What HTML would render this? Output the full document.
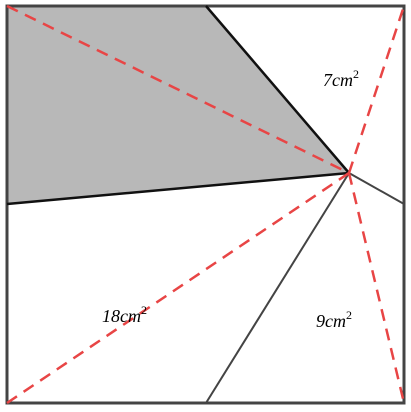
<!DOCTYPE html>
<html><head><meta charset="utf-8"><style>
html,body{margin:0;padding:0;background:#fff;width:411px;height:412px;overflow:hidden}
text{font-family:"Liberation Serif",serif;font-style:italic;font-size:18px}
</style></head><body>
<svg width="411" height="412" viewBox="0 0 411 412">
<polygon points="7,6 206,6 349,173 7,204" fill="#b8b8b8"/>
<rect x="7" y="6" width="397" height="397" fill="none" stroke="#444" stroke-width="3"/>
<line x1="206" y1="6" x2="349" y2="173" stroke="#111" stroke-width="2.5"/>
<line x1="7" y1="204" x2="349" y2="173" stroke="#111" stroke-width="2.5"/>
<line x1="349" y1="173" x2="404" y2="204" stroke="#444" stroke-width="2"/>
<line x1="349" y1="173" x2="206" y2="403" stroke="#444" stroke-width="2"/>
<g stroke="#e84545" stroke-width="2.5" stroke-dasharray="12,8" fill="none">
<line x1="7" y1="6" x2="349" y2="173"/>
<line x1="349" y1="173" x2="404" y2="403"/>
<line x1="7" y1="403" x2="349" y2="173"/>
<line x1="349" y1="173" x2="404" y2="6"/>
</g>
<text x="323" y="86">7cm<tspan font-size="12" dy="-8" font-style="normal">2</tspan></text>
<text x="102" y="322">18cm<tspan font-size="12" dy="-8" font-style="normal">2</tspan></text>
<text x="316" y="327">9cm<tspan font-size="12" dy="-8" font-style="normal">2</tspan></text>
</svg>
</body></html>
